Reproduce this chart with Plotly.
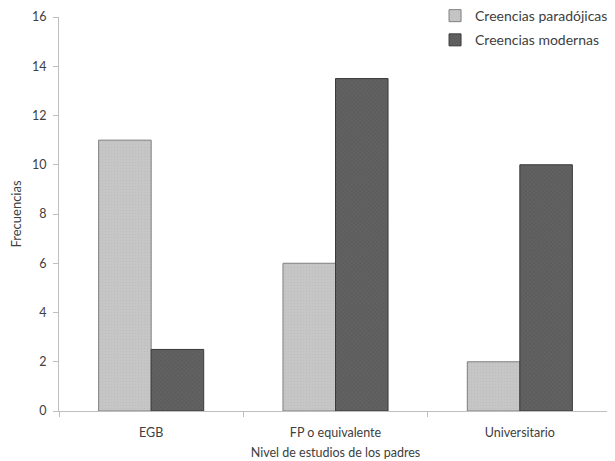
import plotly.graph_objects as go

categories = ["EGB", "FP o equivalente", "Universitario"]
paradojicas = [11, 6, 2]
modernas = [2.5, 13.5, 10]
series_names = ["Creencias paradójicas", "Creencias modernas"]

font_family = "Lato, Open Sans, Liberation Sans, sans-serif"
txt = "#404040"

fig = go.Figure()
fig.add_trace(go.Bar(
    x=categories, y=paradojicas, name=series_names[0],
    legendgroup="a",
    marker=dict(color="#c4c4c4", line=dict(color="#7f7f7f", width=1),
                pattern=dict(shape=".", fgcolor="#b4b4b4", bgcolor="#c6c6c6", size=3, solidity=0.2)),
))
fig.add_trace(go.Bar(
    x=categories, y=modernas, name=series_names[1],
    legendgroup="b",
    marker=dict(color="#5a5a5a", line=dict(color="#3a3a3a", width=1),
                pattern=dict(shape="x", fgcolor="#484848", bgcolor="#626262", size=3, solidity=0.3)),
))

# page body has an 8px margin, so the figure is shrunk to fit the 615x461 window
fig.update_layout(
    width=607, height=453,
    margin=dict(l=51, r=3, t=9, b=50, autoexpand=False),
    plot_bgcolor="white", paper_bgcolor="white",
    barmode="group", bargap=0.43, bargroupgap=0,
    font=dict(family=font_family, size=12, color=txt),
    legend=dict(x=0.68, y=1.043, xanchor="left", yanchor="top",
                bgcolor="rgba(0,0,0,0)", font=dict(size=14, color=txt),
                tracegroupgap=3, itemwidth=30),
    showlegend=True,
)
fig.update_xaxes(
    automargin=False,
    showline=True, linecolor="#bfbfbf", linewidth=1,
    ticks="outside", tickson="boundaries", ticklen=5, tickcolor="#bfbfbf",
    ticklabelstandoff=10,
    title=dict(text="Nivel de estudios de los padres", standoff=9, font=dict(size=12.5, color=txt)),
    tickfont=dict(size=12.5, color=txt),
)
fig.update_yaxes(
    automargin=False,
    range=[0, 16], dtick=2, showgrid=False, zeroline=False,
    showline=True, linecolor="#bfbfbf", linewidth=1,
    ticks="outside", ticklen=5, tickcolor="#bfbfbf",
    ticklabelstandoff=4,
    title=dict(text="Frecuencias", standoff=10, font=dict(size=13, color=txt)),
    tickfont=dict(size=12.5, color=txt),
)

fig.write_html("out.html")
